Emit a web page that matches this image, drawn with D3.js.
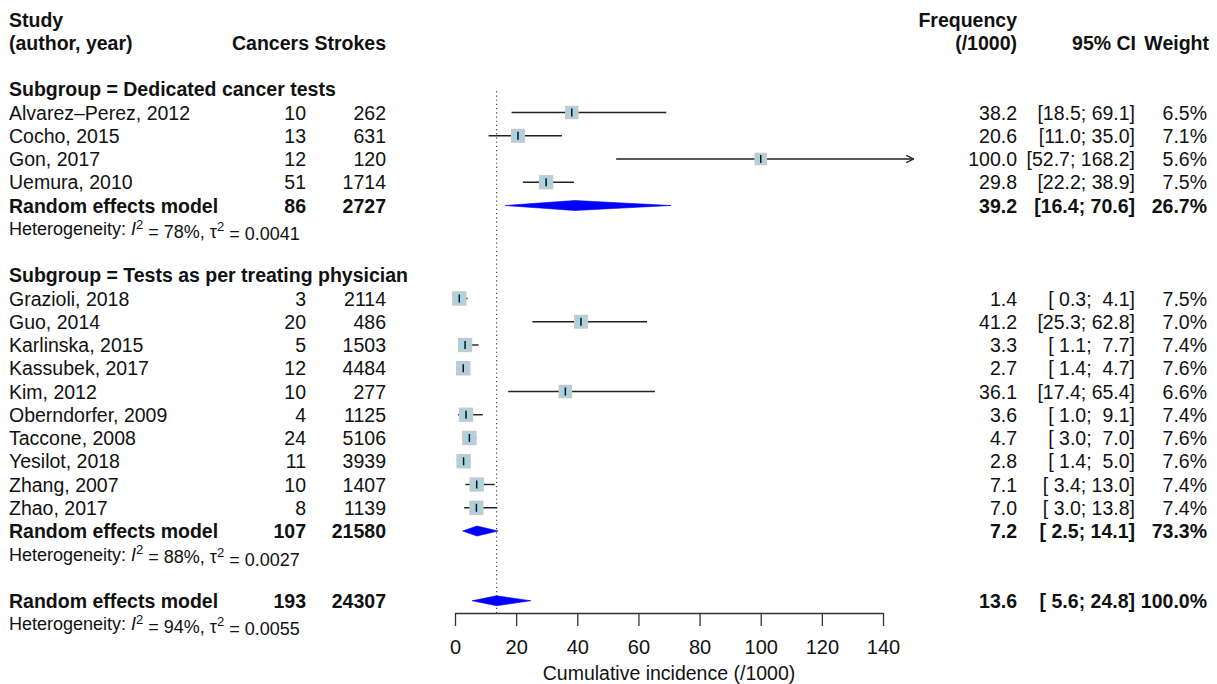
<!DOCTYPE html>
<html>
<head>
<meta charset="utf-8">
<script src="https://cdn.jsdelivr.net/npm/d3@7"></script>
<style>
  body { margin: 0; background: #fff; }
  text { font-family: "Liberation Sans", Arial, Helvetica, sans-serif; fill: #111; }
  .b { font-weight: bold; }
</style>
</head>
<body>
<div class="chart"></div>
<script>
// study data
var studies = ['Alvarez\u2013Perez, 2012', 'Cocho, 2015', 'Gon, 2017', 'Uemura, 2010',
  'Grazioli, 2018', 'Guo, 2014', 'Karlinska, 2015', 'Kassubek, 2017', 'Kim, 2012',
  'Oberndorfer, 2009', 'Taccone, 2008', 'Yesilot, 2018', 'Zhang, 2007', 'Zhao, 2017'];
var groupOf = [0, 0, 0, 0, 1, 1, 1, 1, 1, 1, 1, 1, 1, 1];
var cancers = [10, 13, 12, 51, 3, 20, 5, 12, 10, 4, 24, 11, 10, 8];
var strokes = [262, 631, 120, 1714, 2114, 486, 1503, 4484, 277, 1125, 5106, 3939, 1407, 1139];
var freq = [38.2, 20.6, 100.0, 29.8, 1.4, 41.2, 3.3, 2.7, 36.1, 3.6, 4.7, 2.8, 7.1, 7.0];
var ciLow = [18.5, 11.0, 52.7, 22.2, 0.3, 25.3, 1.1, 1.4, 17.4, 1.0, 3.0, 1.4, 3.4, 3.0];
var ciHigh = [69.1, 35.0, 168.2, 38.9, 4.1, 62.8, 7.7, 4.7, 65.4, 9.1, 7.0, 5.0, 13.0, 13.8];
var weights = [6.5, 7.1, 5.6, 7.5, 7.5, 7.0, 7.4, 7.6, 6.6, 7.4, 7.6, 7.6, 7.4, 7.4];

// subgroup + overall models (last entry is overall)
var groupNames = ['Subgroup = Dedicated cancer tests', 'Subgroup = Tests as per treating physician'];
var modelCancers = [86, 107, 193];
var modelStrokes = [2727, 21580, 24307];
var modelFreq = [39.2, 7.2, 13.6];
var modelLow = [16.4, 2.5, 5.6];
var modelHigh = [70.6, 14.1, 24.8];
var modelWeight = ['26.7%', '73.3%', '100.0%'];
var hetI2 = ['78%', '88%', '94%'];
var hetTau2 = ['0.0041', '0.0027', '0.0055'];

var xTicks = [0, 20, 40, 60, 80, 100, 120, 140];

var svgWidth = 1217;
var svgHeight = 684;
var fs = 19.5;

var svg = d3.select('.chart')
  .append('svg')
  .attr('width', svgWidth)
  .attr('height', svgHeight);

// scales
var x = d3.scaleLinear().domain([0, 150]).range([455, 913.6]);
var rowY = function(i) { return 19.5 + i * 23.25; };

// column positions
var colStudy = 9, colCancers = 306, colStrokes = 386;
var colFreq = 1017, colCI = 1135, colWeight = 1207;

function pad(v) {
  var s = v.toFixed(1);
  while (s.length < 4) s = ' ' + s;
  return s;
}
function ciText(lo, hi) {
  return '[' + pad(lo) + '; ' + pad(hi) + ']';
}

function addText(txt, xp, row, anchor, bold, size) {
  return svg.append('text')
    .attr('x', xp)
    .attr('y', rowY(row))
    .attr('dy', '0.36em')
    .attr('text-anchor', anchor)
    .attr('class', bold ? 'b' : null)
    .style('font-size', (size || fs) + 'px')
    .style('white-space', 'pre')
    .text(txt);
}

// headers
addText('Study', colStudy, 0, 'start', true);
addText('(author, year)', colStudy, 1, 'start', true);
addText('Cancers', colCancers + 3, 1, 'end', true);
addText('Strokes', colStrokes, 1, 'end', true);
addText('Frequency', colFreq, 0, 'end', true);
addText('(/1000)', colFreq, 1, 'end', true);
addText('95% CI', colCI + 1, 1, 'end', true);
addText('Weight', colWeight + 2, 1, 'end', true);

// build row layout
var rows = [];
var r = 3;
var modelRows = [];
var hetRows = [];
[0, 1].forEach(function(g) {
  rows.push({type: 'group', g: g, row: r}); r++;
  studies.forEach(function(s, i) {
    if (groupOf[i] === g) { rows.push({type: 'study', i: i, row: r}); r++; }
  });
  modelRows.push(r); r++;
  hetRows.push(r); r++;
  r++;
});
modelRows.push(r); r++;
hetRows.push(r);

var studyRows = rows.filter(function(d) { return d.type === 'study'; });

// reference line at overall estimate
svg.append('line')
  .attr('x1', x(modelFreq[2]))
  .attr('x2', x(modelFreq[2]))
  .attr('y1', rowY(3) + 2)
  .attr('y2', 613)
  .attr('stroke', '#444')
  .attr('stroke-width', 1.2)
  .attr('stroke-dasharray', '1.2,3');

// group labels
rows.filter(function(d) { return d.type === 'group'; }).forEach(function(d) {
  addText(groupNames[d.g], colStudy, d.row, 'start', true);
});

// study text columns
studyRows.forEach(function(d) {
  var i = d.i;
  addText(studies[i], colStudy, d.row, 'start', false);
  addText(String(cancers[i]), colCancers, d.row, 'end', false);
  addText(String(strokes[i]), colStrokes, d.row, 'end', false);
  addText(freq[i].toFixed(1), colFreq, d.row, 'end', false);
  addText(ciText(ciLow[i], ciHigh[i]), colCI, d.row, 'end', false);
  addText(weights[i].toFixed(1) + '%', colWeight, d.row, 'end', false);
});

// arrow marker for truncated CIs
svg.append('defs').append('marker')
  .attr('id', 'arrow')
  .attr('viewBox', '0 0 10 10')
  .attr('refX', 10).attr('refY', 5)
  .attr('markerWidth', 8).attr('markerHeight', 8)
  .attr('markerUnits', 'userSpaceOnUse')
  .attr('orient', 'auto')
  .append('path')
  .attr('d', 'M0,0 L10,5 L0,10')
  .attr('fill', 'none')
  .attr('stroke', '#222')
  .attr('stroke-width', 1.6);

var xMax = x.domain()[1];

// CI lines
svg.selectAll('.ci')
  .data(studyRows)
  .enter()
  .append('line')
  .attr('class', 'ci')
  .attr('x1', function(d) { return x(ciLow[d.i]); })
  .attr('x2', function(d) { return x(Math.min(ciHigh[d.i], xMax)); })
  .attr('y1', function(d) { return rowY(d.row); })
  .attr('y2', function(d) { return rowY(d.row); })
  .attr('stroke', '#222')
  .attr('stroke-width', 1.4)
  .attr('marker-end', function(d) { return ciHigh[d.i] > xMax ? 'url(#arrow)' : null; });

// weight squares
var sq = function(w) { return 4.7 * Math.sqrt(w); };
svg.selectAll('.box')
  .data(studyRows)
  .enter()
  .append('rect')
  .attr('class', 'box')
  .attr('x', function(d) { return x(freq[d.i]) - sq(weights[d.i]) / 2; })
  .attr('y', function(d) { return rowY(d.row) - sq(weights[d.i]) / 2; })
  .attr('width', function(d) { return sq(weights[d.i]); })
  .attr('height', function(d) { return sq(weights[d.i]); })
  .attr('fill', '#a9d3e0')
  .attr('stroke', '#c8c8c8')
  .attr('stroke-width', 1.5);

svg.selectAll('.est')
  .data(studyRows)
  .enter()
  .append('line')
  .attr('class', 'est')
  .attr('x1', function(d) { return x(freq[d.i]); })
  .attr('x2', function(d) { return x(freq[d.i]); })
  .attr('y1', function(d) { return rowY(d.row) - 4; })
  .attr('y2', function(d) { return rowY(d.row) + 4; })
  .attr('stroke', '#111')
  .attr('stroke-width', 1.5);

// model rows: text + diamonds
modelRows.forEach(function(row, m) {
  addText('Random effects model', colStudy, row, 'start', true);
  addText(String(modelCancers[m]), colCancers, row, 'end', true);
  addText(String(modelStrokes[m]), colStrokes, row, 'end', true);
  addText(modelFreq[m].toFixed(1), colFreq, row, 'end', true);
  addText(ciText(modelLow[m], modelHigh[m]), colCI, row, 'end', true);
  addText(modelWeight[m], colWeight, row, 'end', true);

  var yc = rowY(row);
  svg.append('path')
    .attr('d', 'M' + x(modelLow[m]) + ',' + yc +
      'L' + x(modelFreq[m]) + ',' + (yc - 5) +
      'L' + x(modelHigh[m]) + ',' + yc +
      'L' + x(modelFreq[m]) + ',' + (yc + 5) + 'Z')
    .attr('fill', '#0000ff')
    .attr('stroke', '#0000ff')
    .attr('stroke-width', 0.6);
});

// heterogeneity lines
hetRows.forEach(function(row, m) {
  var t = addText('', colStudy, row, 'start', false, 18);
  t.append('tspan').text('Heterogeneity: ');
  t.append('tspan').style('font-style', 'italic').text('I');
  t.append('tspan').attr('dy', '-0.5em').style('font-size', '13px').text('2');
  t.append('tspan').attr('dy', '0.5em').text(' = ' + hetI2[m] + ', \u03c4');
  t.append('tspan').attr('dy', '-0.5em').style('font-size', '13px').text('2');
  t.append('tspan').attr('dy', '0.5em').text(' = ' + hetTau2[m]);
});

// x axis
var axisScale = d3.scaleLinear().domain([0, 140]).range([x(0), x(140)]);
var bottomAxis = d3.axisBottom(axisScale)
  .tickValues(xTicks)
  .tickSize(13)
  .tickPadding(14)
  .tickSizeOuter(0);
var axisG = svg.append('g')
  .attr('transform', 'translate(0,613)')
  .call(bottomAxis);
axisG.select('.domain').attr('stroke', '#333').attr('stroke-width', 1.3);
axisG.selectAll('.tick line').attr('stroke', '#333').attr('stroke-width', 1.3);
axisG.selectAll('.tick text')
  .style('font-size', '20px')
  .style('font-family', '"Liberation Sans", Arial, sans-serif')
  .attr('fill', '#111');

svg.append('text')
  .attr('x', x(70))
  .attr('y', 673)
  .attr('dy', '0.36em')
  .attr('text-anchor', 'middle')
  .style('font-size', fs + 'px')
  .text('Cumulative incidence (/1000)');
</script>
</body>
</html>
